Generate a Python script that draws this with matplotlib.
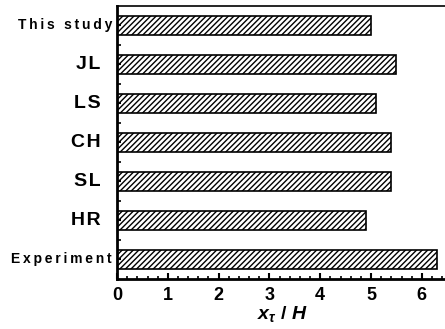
import matplotlib.pyplot as plt
from matplotlib.ticker import MultipleLocator

# categories from bottom to top
labels = ['Experiment', 'HR', 'SL', 'CH', 'LS', 'JL', 'This study']
values = [6.3, 4.9, 5.4, 5.4, 5.1, 5.5, 5.0]
xticks = [0, 1, 2, 3, 4, 5, 6]

plt.rcParams['font.family'] = ['Liberation Sans', 'DejaVu Sans']
plt.rcParams['hatch.linewidth'] = 1.0
plt.rcParams['mathtext.fontset'] = 'custom'
plt.rcParams['mathtext.it'] = 'Liberation Sans:italic:bold'
plt.rcParams['mathtext.rm'] = 'Liberation Sans:bold'

fig = plt.figure(figsize=(4.45, 3.29), dpi=100)
ax = fig.add_axes([0.263, 0.152, 0.742, 0.83])

ypos = list(range(len(labels)))
ax.barh(ypos, values, height=0.5, color='white', edgecolor='black',
        hatch='//////', linewidth=1.2)

ax.set_xlim(0, 6.5)
ax.set_ylim(-0.5, 6.5)
ax.set_xticks(xticks)
ax.set_xticklabels([str(t) for t in xticks], fontsize=13, fontweight='bold')
ax.xaxis.set_minor_locator(MultipleLocator(0.2))
ax.set_yticks(ypos)
ax.set_yticklabels([])
ax.set_yticks([y + 0.5 for y in ypos[:-1]], minor=True)

# letters in the category names are spaced out
for y, lab in zip(ypos, labels):
    if len(lab) > 2:
        ax.text(-0.015, y, '\u2009'.join(lab), transform=ax.get_yaxis_transform(),
                ha='right', va='center', fontsize=10, fontweight='bold')
    else:
        ax.text(-0.05, y, '\u200a'.join(lab), transform=ax.get_yaxis_transform(),
                ha='right', va='center', fontsize=14, fontweight='bold')

ax.tick_params(axis='both', which='major', direction='in', length=4, width=1.5)
ax.tick_params(axis='both', which='minor', direction='in', length=2, width=1.2)
ax.tick_params(axis='y', which='both', length=3)
ax.tick_params(axis='x', pad=6)

for side in ['left', 'bottom']:
    ax.spines[side].set_linewidth(2)
ax.spines['top'].set_linewidth(1.2)
ax.spines['right'].set_visible(False)

ax.set_xlabel(r'$x_\tau$ / $H$', fontsize=14, fontweight='bold', labelpad=0)

fig.savefig('out.png', dpi=100)
